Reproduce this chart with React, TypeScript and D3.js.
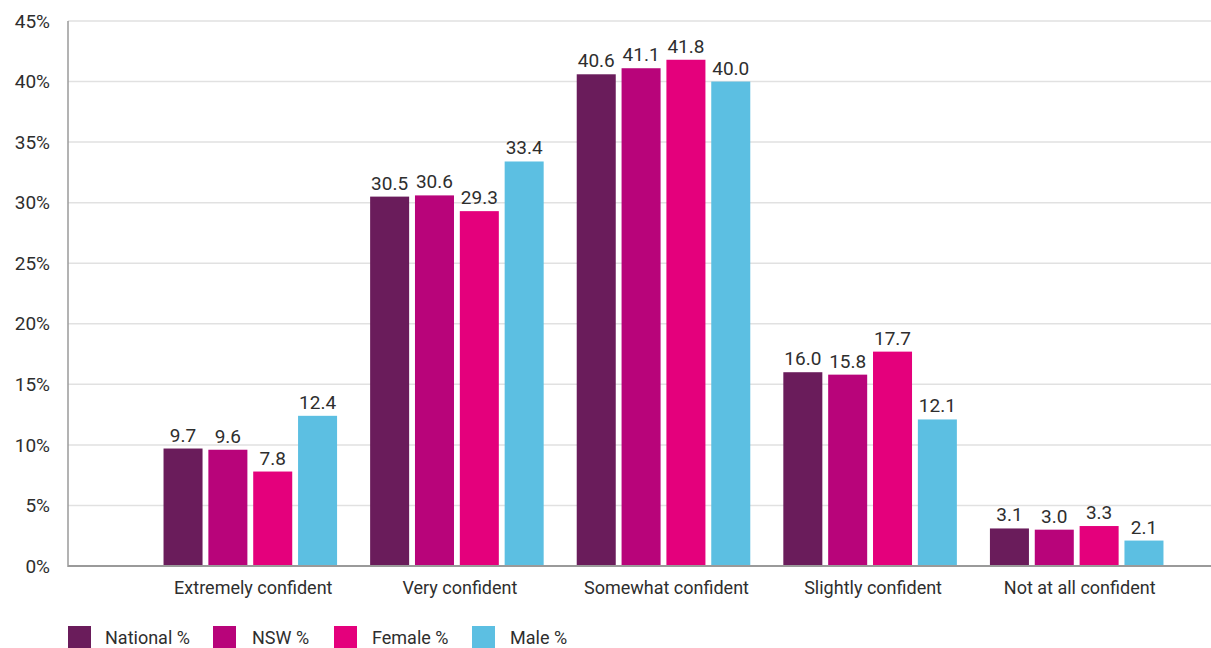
import React from "react";
import * as d3 from "d3";

const categories = [
  "Extremely confident",
  "Very confident",
  "Somewhat confident",
  "Slightly confident",
  "Not at all confident",
];
const seriesNames = ["National %", "NSW %", "Female %", "Male %"];
const seriesColors = ["#6A1C5B", "#B8047A", "#E4007C", "#5CBFE2"];
const national = [9.7, 30.5, 40.6, 16.0, 3.1];
const nsw = [9.6, 30.6, 41.1, 15.8, 3.0];
const female = [7.8, 29.3, 41.8, 17.7, 3.3];
const male = [12.4, 33.4, 40.0, 12.1, 2.1];
const yTicks = [0, 5, 10, 15, 20, 25, 30, 35, 40, 45];

const seriesValues = [national, nsw, female, male];

const W = 1211;
const H = 648;
const FONT = "Roboto, 'Noto Sans', sans-serif";
const TEXT = "#2E2E2E";

export default function App() {
  const x0 = d3
    .scaleBand<string>()
    .domain(categories)
    .range([147, 1180])
    .paddingInner(0.16)
    .paddingOuter(0.08);
  const x1 = d3
    .scaleBand<string>()
    .domain(seriesNames)
    .range([0, x0.bandwidth()])
    .paddingInner(0.13);
  const y = d3.scaleLinear().domain([0, 45]).range([566, 21]);

  const axisLeft = 68;
  const legendSwatch = [68, 213, 334, 472];
  const legendText = [105, 252, 372, 510];

  return (
    <svg
      width={W}
      height={H}
      style={{ position: "absolute", left: 0, top: 0, background: "#fff" }}
      fontFamily={FONT}
    >
      {/* gridlines */}
      {yTicks.slice(1).map((t) => (
        <line
          key={`g${t}`}
          x1={axisLeft}
          x2={W}
          y1={y(t)}
          y2={y(t)}
          stroke="#E1E1E1"
          strokeWidth={1.5}
        />
      ))}
      {/* y tick labels */}
      {yTicks.map((t) => (
        <text
          key={`t${t}`}
          x={50}
          y={y(t)}
          dy="0.35em"
          textAnchor="end"
          fontSize={19}
          fill={TEXT}
        >
          {`${t}%`}
        </text>
      ))}
      {/* bars */}
      {categories.map((c, ci) => (
        <g key={c} transform={`translate(${x0(c)},0)`}>
          {seriesNames.map((s, si) => {
            const v = seriesValues[si][ci];
            const bx = x1(s)!;
            return (
              <g key={s}>
                <rect
                  x={bx}
                  y={y(v)}
                  width={x1.bandwidth()}
                  height={y(0) - y(v)}
                  fill={seriesColors[si]}
                />
                <text
                  x={bx + x1.bandwidth() / 2}
                  y={y(v) - 7}
                  textAnchor="middle"
                  fontSize={19}
                  fill={TEXT}
                >
                  {v.toFixed(1)}
                </text>
              </g>
            );
          })}
          <text
            x={x0.bandwidth() / 2 + 3}
            y={594}
            textAnchor="middle"
            fontSize={18}
            fill={TEXT}
          >
            {c}
          </text>
        </g>
      ))}
      {/* axes */}
      <line x1={axisLeft} x2={axisLeft} y1={y(45)} y2={y(0) + 1} stroke="#9A9A9A" strokeWidth={1.5} />
      <line x1={axisLeft} x2={W} y1={y(0)} y2={y(0)} stroke="#9A9A9A" strokeWidth={2} />
      {/* legend */}
      {seriesNames.map((s, i) => (
        <g key={s}>
          <rect x={legendSwatch[i]} y={626} width={23} height={22} fill={seriesColors[i]} />
          <text x={legendText[i]} y={644} fontSize={18} fill={TEXT}>
            {s}
          </text>
        </g>
      ))}
    </svg>
  );
}
